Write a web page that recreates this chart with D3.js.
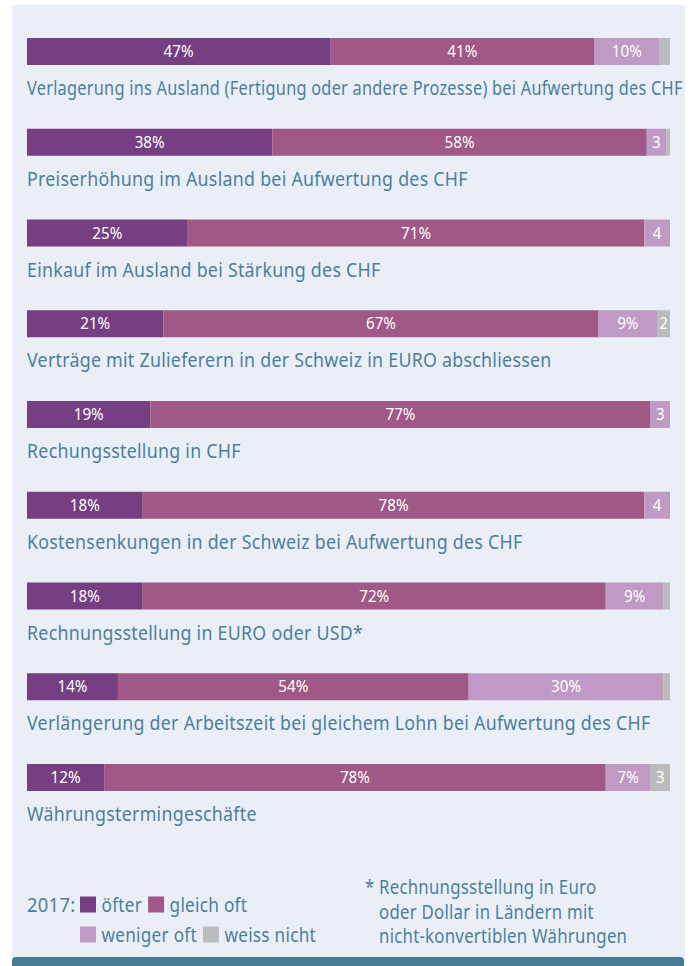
<!DOCTYPE html>
<html>
<head>
<meta charset="utf-8">
<script src="https://cdn.jsdelivr.net/npm/d3@7"></script>
<style>
  html, body { margin: 0; padding: 0; background: #fff; }
  svg { display: block; }
</style>
</head>
<body>
<div id="chart"></div>
<script>
// Survey measures, share of firms (%), 2017
const categories = [
  'Verlagerung ins Ausland (Fertigung oder andere Prozesse) bei Aufwertung des CHF',
  'Preiserhöhung im Ausland bei Aufwertung des CHF',
  'Einkauf im Ausland bei Stärkung des CHF',
  'Verträge mit Zulieferern in der Schweiz in EURO abschliessen',
  'Rechungsstellung in CHF',
  'Kostensenkungen in der Schweiz bei Aufwertung des CHF',
  'Rechnungsstellung in EURO oder USD*',
  'Verlängerung der Arbeitszeit bei gleichem Lohn bei Aufwertung des CHF',
  'Währungstermingeschäfte'
];
const oefter     = [47, 38, 25, 21, 19, 18, 18, 14, 12];
const gleichOft  = [41, 58, 71, 67, 77, 78, 72, 54, 78];
const wenigerOft = [10,  3,  4,  9,  3,  4,  9, 30,  7];
const weissNicht = [1.7, 0.6, 0, 2, 0, 0, 1, 1, 3];

const keys = ['oefter', 'gleich', 'weniger', 'weiss'];
const keyLabels = ['öfter', 'gleich oft', 'weniger oft', 'weiss nicht'];
const keyColors = ['#753f82', '#a05886', '#be9ac4', '#bbbbbb'];
const legendYear = '2017:';
const footnoteLines = [
  'Rechnungsstellung in Euro',
  'oder Dollar in Ländern mit',
  'nicht-konvertiblen Währungen'
];

const W = 695, H = 966;
const textColor = '#4d7f98';
const font = "'Noto Sans', 'Open Sans', sans-serif";
const SX = 0.89; // horizontal squeeze to mimic the condensed face
const labelSize = '20px';
const labelMaxW = 656;

const rows = categories.map((c, i) => ({
  cat: c,
  oefter: oefter[i],
  gleich: gleichOft[i],
  weniger: wenigerOft[i],
  weiss: weissNicht[i]
}));

const svg = d3.select('#chart').append('svg')
  .attr('width', W).attr('height', H)
  .style('font-family', font);

// panel
svg.append('rect')
  .attr('x', 12).attr('y', 5).attr('width', 673).attr('height', 960)
  .attr('rx', 3).attr('fill', '#eaeff7');
svg.append('rect')
  .attr('x', 12).attr('y', 957).attr('width', 672).attr('height', 14)
  .attr('rx', 4).attr('fill', '#477b92');

const x = d3.scaleLinear().domain([0, 1]).range([27, 670]);
const y = d3.scalePoint().domain(categories).range([38, 764]);
const barH = 27;

const color = d3.scaleOrdinal().domain(keys).range(keyColors);

const series = d3.stack().keys(keys).offset(d3.stackOffsetExpand)(rows);

const layer = svg.append('g').selectAll('g')
  .data(series)
  .join('g')
  .attr('fill', d => color(d.key));

layer.selectAll('rect')
  .data(d => d.map(s => ({ s, key: d.key })))
  .join('rect')
  .attr('x', d => x(d.s[0]))
  .attr('y', d => y(d.s.data.cat))
  .attr('width', d => Math.max(0, x(d.s[1]) - x(d.s[0])))
  .attr('height', barH);

function fmt(v) {
  if (v >= 5) return v + '%';
  if (v >= 2) return String(v);
  return '';
}

layer.selectAll('text')
  .data(d => d.map(s => ({ s, key: d.key })))
  .join('text')
  .attr('transform', d => `translate(${(x(d.s[0]) + x(d.s[1])) / 2},${y(d.s.data.cat) + barH / 2 + 5.5}) scale(0.95,1)`)
  .attr('text-anchor', 'middle')
  .attr('fill', '#fff')
  .style('font-size', '16px')
  .text(d => fmt(d.s.data[d.key]));

// category labels, squeezed further if they would run past the panel
svg.append('g').selectAll('text')
  .data(categories)
  .join('text')
  .attr('fill', textColor)
  .style('font-size', labelSize)
  .style('letter-spacing', '0.3px')
  .text(d => d)
  .attr('transform', function (d) {
    const w = this.getComputedTextLength();
    const sx = Math.min(SX, labelMaxW / w);
    return `translate(27,${y(d) + 57}) scale(${sx},1)`;
  });

// legend
const legend = svg.append('g').attr('fill', textColor)
  .style('font-size', labelSize).style('letter-spacing', '0.3px');
legend.append('text')
  .attr('transform', 'translate(27,912) scale(0.92,1)')
  .text(legendYear);

const legendRows = [[0, 1], [2, 3]];
const legendY = [912, 942];
legendRows.forEach((items, r) => {
  let cx = 80;
  items.forEach(k => {
    legend.append('rect')
      .attr('x', cx).attr('y', legendY[r] - 15.5)
      .attr('width', 16).attr('height', 16)
      .attr('fill', keyColors[k]);
    const t = legend.append('text')
      .attr('transform', `translate(${cx + 21.5},${legendY[r]}) scale(0.86,1)`)
      .text(keyLabels[k]);
    cx += 21.5 + t.node().getComputedTextLength() * 0.86 + 6;
  });
});

// footnote
const foot = svg.append('g').attr('fill', textColor)
  .style('font-size', labelSize).style('letter-spacing', '0.3px');
foot.append('text')
  .attr('transform', 'translate(365,894) scale(0.84,1)')
  .text('*');
foot.selectAll('text.line')
  .data(footnoteLines)
  .join('text')
  .attr('class', 'line')
  .attr('transform', (d, i) => `translate(379,${894 + i * 24.5}) scale(0.84,1)`)
  .text(d => d);
</script>
</body>
</html>
